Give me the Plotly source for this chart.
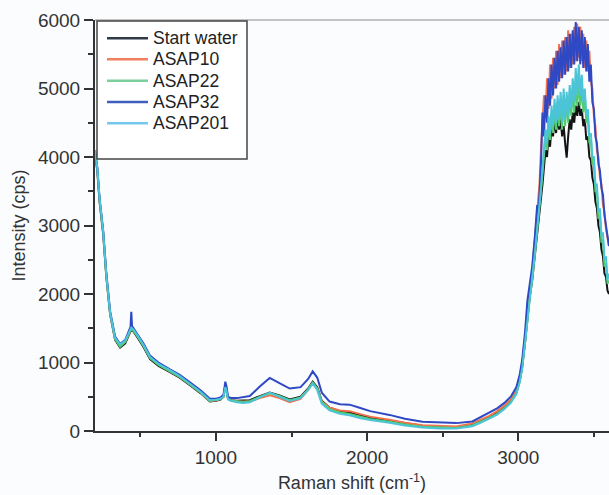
import plotly.graph_objects as go

# ---- data ----
wavenumber = [
    200, 215, 230, 254, 275, 300, 333, 366, 400, 425, 435, 440, 445, 455, 480, 520, 564, 620, 696, 760,
    828, 900, 960, 1000, 1030, 1050, 1062, 1070, 1080, 1100, 1139, 1180, 1224, 1290, 1356, 1420, 1488,
    1560, 1610, 1640, 1670, 1700, 1752, 1820, 1884, 1950, 2020, 2148, 2250, 2366, 2480, 2590, 2696, 2750,
    2808, 2860, 2908, 2950, 2987, 3010, 3026, 3045, 3060, 3075, 3092, 3110, 3125,
    3130, 3140, 3150, 3160, 3170, 3180, 3190, 3200, 3210, 3220, 3230, 3240, 3250, 3260, 3270, 3280, 3290,
    3300, 3310, 3320, 3330, 3340, 3350, 3360, 3370, 3380, 3390, 3400, 3410, 3420, 3430, 3440, 3450, 3460,
    3470, 3480, 3490, 3500, 3510, 3520, 3530, 3540, 3550, 3560, 3570, 3580, 3590, 3600,
]

start_water = [
    4050, 3800, 3350, 2880, 2250, 1700, 1330, 1220, 1280, 1400, 1460, 1480, 1470, 1450, 1370, 1230, 1050, 950, 860, 780,
    670, 550, 430, 440, 460, 500, 660, 600, 470, 450, 440, 440, 450, 510, 560, 520, 460,
    500, 620, 720, 640, 440, 340, 290, 270, 230, 190, 150, 110, 75, 60, 55, 90, 140,
    200, 260, 340, 430, 560, 740, 940, 1300, 1650, 1950, 2200, 2550, 2900,
    2950, 3150, 3400, 3600, 3850, 4100, 4000, 4300, 4150, 4450, 4300, 4550, 4350, 4600, 4400, 4550, 4300,
    4450, 4200, 3990, 4300, 4550, 4400, 4650, 4500, 4750, 4600, 4800, 4600, 4700, 4450, 4550, 4250, 4300,
    4000, 3950, 3700, 3600, 3350, 3250, 3000, 2900, 2650, 2550, 2300, 2250, 2050, 2000,
]

asap10 = [
    4080, 3830, 3380, 2900, 2270, 1720, 1350, 1240, 1300, 1420, 1480, 1490, 1480, 1460, 1390, 1250, 1070, 970, 870, 790,
    680, 560, 440, 445, 465, 505, 650, 590, 465, 445, 430, 425, 430, 480, 520, 480, 420,
    470, 600, 700, 620, 430, 340, 300, 290, 250, 210, 165, 120, 85, 70, 65, 110, 160,
    220, 290, 370, 460, 600, 790, 990, 1380, 1780, 2050, 2330, 2800, 3200,
    3350, 3600, 4100, 4500, 4900, 4600, 5150, 4700, 5350, 4850, 5450, 5000, 5550, 5050, 5650, 5150, 5700,
    5200, 5750, 5250, 5850, 5300, 5800, 5350, 5900, 5400, 5950, 5450, 5900, 5400, 5800, 5300, 5700, 5250,
    5550, 5100, 5000, 4600, 4450, 4100, 4000, 3700, 3600, 3300, 3200, 2950, 2850, 2700,
]

asap22 = [
    4070, 3820, 3370, 2890, 2260, 1710, 1340, 1230, 1300, 1420, 1480, 1495, 1480, 1460, 1385, 1245, 1065, 965, 870, 790,
    680, 560, 440, 450, 465, 500, 645, 595, 465, 445, 430, 425, 435, 500, 550, 510, 450,
    490, 610, 705, 625, 425, 320, 270, 250, 210, 175, 135, 95, 62, 48, 45, 80, 130,
    190, 250, 330, 420, 550, 730, 930, 1290, 1640, 1940, 2200, 2580, 2920,
    3020, 3250, 3500, 3750, 4000, 4300, 4100, 4500, 4250, 4650, 4350, 4750, 4400, 4800, 4450, 4850, 4400,
    4900, 4450, 4850, 4500, 4950, 4600, 5000, 4650, 5100, 4750, 5150, 4750, 5050, 4650, 4900, 4500, 4600,
    4200, 4250, 3900, 3900, 3500, 3500, 3100, 3150, 2750, 2800, 2400, 2450, 2150, 2200,
]

asap32 = [
    4100, 3850, 3400, 2930, 2300, 1750, 1380, 1270, 1330, 1450, 1520, 1740, 1530, 1500, 1420, 1280, 1100, 1000, 900, 820,
    710, 590, 470, 470, 490, 530, 720, 650, 500, 480, 480, 490, 510, 650, 775, 700, 620,
    640, 760, 870, 780, 560, 430, 390, 385, 340, 290, 235, 180, 135, 120, 115, 140, 200,
    265, 330, 410, 500, 640, 830, 1040, 1450, 1900, 2150, 2400, 2850, 3300,
    3150, 3450, 3900, 4650, 4300, 4900, 4500, 5150, 4750, 5350, 4900, 5450, 5000, 5550, 5100, 5600, 5150,
    5700, 5200, 5750, 5250, 5800, 5300, 5850, 5350, 5970, 5400, 5900, 5350, 5850, 5300, 5750, 5250, 5650,
    5100, 5350, 4800, 4700, 4300, 4200, 3900, 3800, 3550, 3450, 3150, 3000, 2800, 2700,
]

asap201 = [
    4100, 3850, 3400, 2920, 2280, 1730, 1360, 1260, 1320, 1440, 1500, 1510, 1500, 1480, 1400, 1260, 1080, 980, 890, 800,
    690, 570, 450, 455, 470, 500, 640, 590, 460, 440, 420, 410, 420, 490, 560, 500, 440,
    480, 600, 690, 600, 400, 300, 250, 230, 190, 160, 120, 80, 50, 35, 35, 70, 120,
    180, 240, 320, 410, 540, 720, 920, 1280, 1620, 1920, 2200, 2600, 2950,
    3050, 3300, 3550, 3800, 4100, 4400, 4200, 4600, 4350, 4750, 4450, 4850, 4500, 4900, 4550, 4950, 4500,
    5000, 4550, 4950, 4600, 5050, 4700, 5150, 4800, 5300, 4900, 5350, 4900, 5200, 4800, 5000, 4600, 4700,
    4300, 4350, 4000, 4000, 3600, 3600, 3200, 3250, 2850, 2900, 2500, 2550, 2200, 2300,
]

series_names = ["Start water", "ASAP10", "ASAP22", "ASAP32", "ASAP201"]
series_values = [start_water, asap10, asap22, asap32, asap201]
series_colors = ["#141414", "#f2714f", "#52cc6e", "#2f48c4", "#4cc4d8"]
legend_colors = ["#2f3b46", "#f2805e", "#7ccf9c", "#3f5fc0", "#74c8ee"]

x_ticks = [1000, 2000, 3000]
y_ticks = [0, 1000, 2000, 3000, 4000, 5000, 6000]

# ---- figure ----
BG = "#fbfcfe"
TXT = "#333333"
FONT = "Liberation Sans, Arial, sans-serif"
W, H = 609, 495
ML, MR, MT, MB = 95, 0, 20, 64
PW, PH = W - ML - MR, H - MT - MB


def px_x(px):
    return (px - ML) / PW


def px_y(py):
    return (H - MB - py) / PH


fig = go.Figure()
for name, vals, col in zip(series_names, series_values, series_colors):
    fig.add_trace(go.Scatter(
        x=wavenumber, y=vals, name=name, mode="lines",
        line=dict(color=col, width=2), showlegend=False,
    ))

# legend box (hand-drawn to match the original's tight spacing)
shapes = [
    dict(type="line", xref="paper", yref="paper", x0=0, x1=1, y0=1, y1=1,
         line=dict(color="#b0b0b0", width=1.5), layer="above"),
    dict(type="rect", xref="paper", yref="paper", x0=px_x(97), x1=px_x(247),
         y0=px_y(159), y1=px_y(21),
         line=dict(color="#444444", width=1.5), fillcolor="#ffffff", layer="above"),
]
annotations = []
row_y = [38.3, 59.3, 80.8, 102.0, 123.2]
for name, col, ry in zip(series_names, legend_colors, row_y):
    shapes.append(dict(type="line", xref="paper", yref="paper",
                       x0=px_x(107), x1=px_x(148), y0=px_y(ry), y1=px_y(ry),
                       line=dict(color=col, width=2.5), layer="above"))
    annotations.append(dict(text=name, xref="paper", yref="paper",
                            x=px_x(151), y=px_y(ry), xanchor="left", yanchor="middle",
                            showarrow=False, font=dict(family=FONT, size=17.5, color="#222222")))

fig.update_layout(
    width=W, height=H,
    margin=dict(l=ML, r=MR, t=MT, b=MB),
    paper_bgcolor=BG, plot_bgcolor=BG,
    font=dict(family=FONT, color=TXT, size=19),
    showlegend=False,
    xaxis=dict(
        range=[200, 3600], tickvals=x_ticks, ticks="outside", ticklen=8, tickwidth=1.5,
        tickcolor="#333333", showline=True, linecolor="#333333", linewidth=2,
        showgrid=False, zeroline=False,
        minor=dict(dtick=500, tick0=0, ticks="outside", ticklen=4, tickwidth=1.5, tickcolor="#333333"),
        title=dict(text="Raman shift (cm<sup>-1</sup>)", font=dict(size=18), standoff=10),
        tickfont=dict(size=19),
    ),
    yaxis=dict(
        range=[0, 6000], tickvals=y_ticks, ticks="outside", ticklen=9, tickwidth=1.5,
        tickcolor="#333333", showline=True, linecolor="#333333", linewidth=2,
        showgrid=False, zeroline=False,
        minor=dict(dtick=500, tick0=0, ticks="outside", ticklen=5, tickwidth=1.5, tickcolor="#333333"),
        title=dict(text="Intensity (cps)", font=dict(size=18), standoff=8),
        tickfont=dict(size=19),
    ),
    shapes=shapes,
    annotations=annotations,
)

fig.write_html("out.html", config={"displayModeBar": False},
               post_script="document.body.style.margin='0';")
